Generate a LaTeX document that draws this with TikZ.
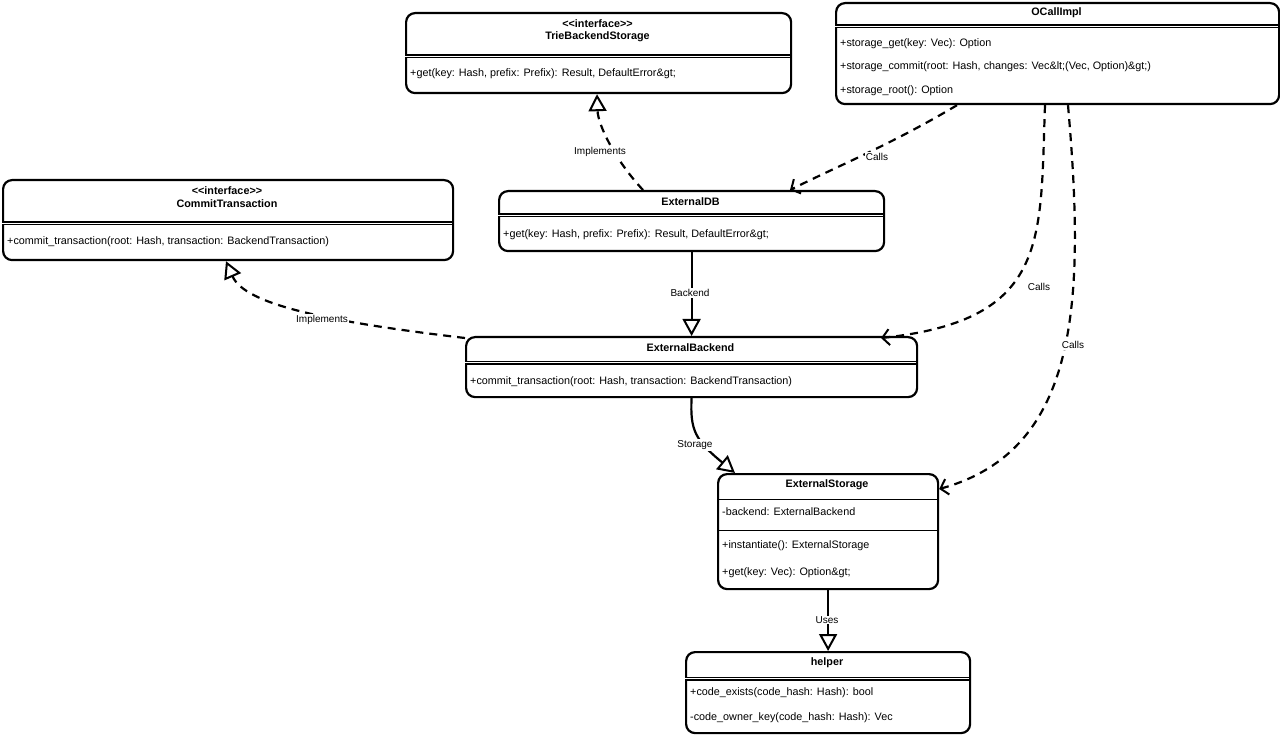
\documentclass[tikz,border=0pt]{standalone}
\usepackage{fontspec}
\setmainfont{Liberation Sans}
\usetikzlibrary{arrows.meta}

\tikzset{
  cls/.style={draw, line width=2.2pt, rounded corners=9pt, anchor=north west, inner sep=0pt},
  hdr/.style={font=\fontsize{10.8}{13}\selectfont\bfseries, align=center, inner sep=0pt},
  mem/.style={font=\fontsize{10.8}{13}\selectfont, anchor=west, inner sep=0pt},
  sepline/.style={line width=1pt},
  dsepline/.style={line width=1.1pt, double, double distance=1.8pt},
  lbl/.style={font=\fontsize{10}{12}\selectfont, fill=white, inner sep=1pt},
  impl/.style={line width=2.2pt, dash pattern=on 8pt off 6pt,
    -{Triangle[open, length=17pt, width=18pt, line width=2pt]}},
  gen/.style={line width=2.2pt,
    -{Triangle[open, length=17pt, width=18pt, line width=2pt]}},
  calls/.style={line width=2.2pt, dash pattern=on 8pt off 6pt,
    -{Straight Barb[length=7pt, width=16pt, line width=2pt]}},
}

\begin{document}
\begin{tikzpicture}[x=1pt, y=-1pt]
\useasboundingbox (0,0) rectangle (1280,735);

% class boxes
\node[cls, minimum width=385pt, minimum height=80pt] (trie) at (405,12) {};
\node[cls, minimum width=443pt, minimum height=101pt] (ocall) at (835,2) {};
\node[cls, minimum width=450pt, minimum height=80pt] (commit) at (2,179) {};
\node[cls, minimum width=385pt, minimum height=60pt] (extdb) at (498,190) {};
\node[cls, minimum width=451pt, minimum height=60pt] (extbk) at (465,336) {};
\node[cls, minimum width=220pt, minimum height=115pt] (extst) at (717,473) {};
\node[cls, minimum width=284pt, minimum height=81pt] (helper) at (685,651) {};

% TrieBackendStorage
\node[hdr] (trie-st) at (597.5,24) {<\kern0pt<interface>\kern0pt>};
\node[hdr] (trie-nm) at (597.5,37) {TrieBackendStorage};
\draw[dsepline] (405,56.5) -- (790,56.5);
\node[mem] (trie-m1) at (410,74) {+get(key: Hash, prefix: Prefix): Result, DefaultError\&gt;};

% OCallImpl
\node[hdr] (ocall-nm) at (1056.5,13) {OCallImpl};
\draw[dsepline] (835,26.5) -- (1278,26.5);
\node[mem] (ocall-m1) at (840,44) {+storage\_get(key: Vec): Option};
\node[mem] (ocall-m2) at (840,67) {+storage\_commit(root: Hash, changes: Vec\&lt;(Vec, Option)\&gt;)};
\node[mem] (ocall-m3) at (840,91) {+storage\_root(): Option};

% CommitTransaction
\node[hdr] (commit-st) at (227,191) {<\kern0pt<interface>\kern0pt>};
\node[hdr] (commit-nm) at (227,204) {CommitTransaction};
\draw[dsepline] (2,223.5) -- (452,223.5);
\node[mem] (commit-m1) at (7,242) {+commit\_transaction(root: Hash, transaction: BackendTransaction)};

% ExternalDB
\node[hdr] (extdb-nm) at (690.5,202) {ExternalDB};
\draw[dsepline] (498,215.5) -- (883,215.5);
\node[mem] (extdb-m1) at (503,235) {+get(key: Hash, prefix: Prefix): Result, DefaultError\&gt;};

% ExternalBackend
\node[hdr] (extbk-nm) at (690.5,348) {ExternalBackend};
\draw[dsepline] (465,362.5) -- (916,362.5);
\node[mem] (extbk-m1) at (470,382) {+commit\_transaction(root: Hash, transaction: BackendTransaction)};

% ExternalStorage
\node[hdr] (extst-nm) at (827,485) {ExternalStorage};
\draw[sepline] (717,499) -- (937,499);
\node[mem] (extst-a1) at (722,512) {-backend: ExternalBackend};
\draw[sepline] (717,530) -- (937,530);
\node[mem] (extst-m1) at (722,546) {+instantiate(): ExternalStorage};
\node[mem] (extst-m2) at (722,573) {+get(key: Vec): Option\&gt;};

% helper
\node[hdr] (helper-nm) at (827,663) {helper};
\draw[dsepline] (685,678.5) -- (969,678.5);
\node[mem] (helper-m1) at (690,693) {+code\_exists(code\_hash: Hash): bool};
\node[mem] (helper-m2) at (690,718) {-code\_owner\_key(code\_hash: Hash): Vec};

% relations
\draw[impl] ([xshift=145pt]extdb.north west) .. controls (615,160) and (598,125) .. ([xshift=192pt]trie.south west);
\draw[impl] ([yshift=-2pt]extbk.north west) .. controls (330,322) and (245,305) .. ([xshift=224pt]commit.south west);
\draw[gen] (extdb.south) -- (extbk.north);
\draw[gen] (extbk.south) .. controls (690,430) and (695,440) .. ([xshift=18pt]extst.north west);
\draw[gen] (extst.south) -- (helper.north);
\draw[calls] ([xshift=122pt]ocall.south west) .. controls (890,145) and (840,165) .. ([xshift=292pt]extdb.north west);
\draw[calls] ([xshift=210pt]ocall.south west) .. controls (1040,240) and (1050,320) .. ([xshift=416pt, yshift=-2pt]extbk.north west);
\draw[calls] ([xshift=233pt]ocall.south west) .. controls (1085,300) and (1080,450) .. ([yshift=-16pt]extst.north east);

% relation labels
\node[lbl] (l-impl1) at (600,152) {Implements};
\node[lbl] (l-impl2) at (322,320) {Implements};
\node[lbl] (l-backend) at (690,293) {Backend};
\node[lbl] (l-storage) at (695,445) {Storage};
\node[lbl] (l-uses) at (827,620) {Uses};
\node[lbl] (l-calls1) at (877,157) {Calls};
\node[lbl, fill=none] (l-calls2) at (1039,287) {Calls};
\node[lbl] (l-calls3) at (1073,345) {Calls};
\end{tikzpicture}
\end{document}
